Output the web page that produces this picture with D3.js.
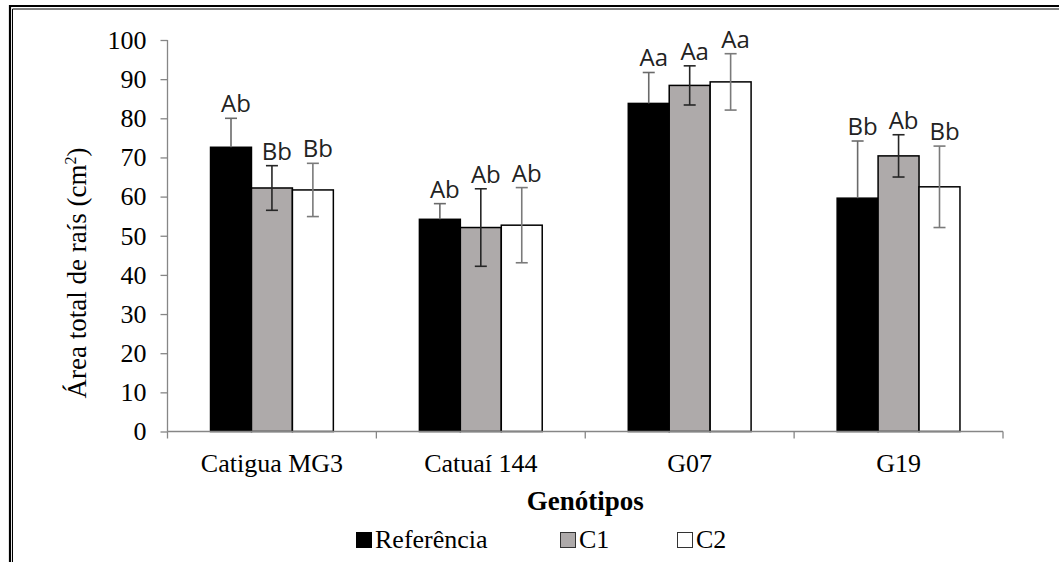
<!DOCTYPE html>
<html>
<head>
<meta charset="utf-8">
<script src="https://cdn.jsdelivr.net/npm/d3@7"></script>
<style>
  html, body { margin: 0; padding: 0; background: #fff; }
  svg { display: block; }
</style>
</head>
<body>
<svg id="chart" width="1059" height="562"></svg>
<script>
// Genotypes on the x axis
const categories = ["Catigua MG3", "Catuaí 144", "G07", "G19"];
// Treatments (legend entries)
const series = ["Referência", "C1", "C2"];
// Mean total root area (cm²) per genotype, one array per treatment
const refValues = [72.6, 54.2, 83.8, 59.6];
const c1Values  = [62.2, 52.1, 88.4, 70.4];
const c2Values  = [61.7, 52.7, 89.3, 62.5];
// Error bar half-widths (cm²)
const refErrors = [7.4, 4.0, 7.9, 14.6];
const c1Errors  = [5.7, 9.9, 5.0, 5.4];
const c2Errors  = [6.8, 9.6, 7.2, 10.4];
// Mean comparison letters
const refLetters = ["Ab", "Ab", "Aa", "Bb"];
const c1Letters  = ["Bb", "Ab", "Aa", "Ab"];
const c2Letters  = ["Bb", "Ab", "Aa", "Bb"];
// Y axis ticks
const yTicks = [0, 10, 20, 30, 40, 50, 60, 70, 80, 90, 100];

const valuesBySeries  = [refValues, c1Values, c2Values];
const errorsBySeries  = [refErrors, c1Errors, c2Errors];
const lettersBySeries = [refLetters, c1Letters, c2Letters];

const fills      = ["#000000", "#aeaaaa", "#ffffff"];
const errColors  = ["#6a6a6a", "#262626", "#7a7a7a"];
// The lower whisker of the black bars sits inside the black fill
const errBelow   = [false, true, true];
const serif = "'Liberation Serif', 'Times New Roman', serif";
const sans  = "'Open Sans', 'Noto Sans', sans-serif";

const svg = d3.select("#chart");

// Double frame line on the left and top
svg.append("path").attr("d", "M10,562V6H1059")
  .attr("fill", "none").attr("stroke", "#000").attr("stroke-width", 2.2);
svg.append("path").attr("d", "M12.5,562V9H1059")
  .attr("fill", "none").attr("stroke", "#000").attr("stroke-width", 1);

const plotLeft = 167.5, plotRight = 1003, plotTop = 40, plotBottom = 431.5;

const x0 = d3.scaleBand().domain(categories).range([plotLeft, plotRight]).paddingInner(0).paddingOuter(0);
const bw = x0.bandwidth();
const gap = bw * 0.206;
const x1 = d3.scaleBand().domain(series).range([gap, bw - gap]).padding(0);
const y = d3.scaleLinear().domain([0, 100]).range([plotBottom, plotTop]);

// Rows of the table used for drawing
const rows = [];
categories.forEach((cat, ci) => {
  series.forEach((s, si) => {
    rows.push({
      cat, s, si,
      v: valuesBySeries[si][ci],
      e: errorsBySeries[si][ci],
      label: lettersBySeries[si][ci]
    });
  });
});

// Y axis
const yAxis = d3.axisLeft(y).tickValues(yTicks).tickSize(7).tickPadding(14).tickFormat(d3.format("d"));
const gy = svg.append("g").attr("transform", `translate(${plotLeft},0)`).call(yAxis);
gy.select(".domain").attr("stroke", "#868686").attr("stroke-width", 1.3)
  .attr("d", `M0,${plotTop}V${plotBottom}`);
gy.selectAll(".tick line").attr("stroke", "#868686").attr("stroke-width", 1.3);
gy.selectAll(".tick text").attr("font-family", serif).attr("font-size", 26).attr("fill", "#000");

// Bars
const bars = svg.append("g");
bars.selectAll("rect").data(rows).join("rect")
  .attr("x", d => x0(d.cat) + x1(d.s))
  .attr("y", d => y(d.v))
  .attr("width", x1.bandwidth())
  .attr("height", d => y(0) - y(d.v))
  .attr("fill", d => fills[d.si])
  .attr("stroke", "#000")
  .attr("stroke-width", 1.5);

// Error bars
const capHalf = 6;
const eb = svg.append("g");
rows.forEach(d => {
  const cx = x0(d.cat) + x1(d.s) + x1.bandwidth() / 2;
  const lo = errBelow[d.si] ? d.v - d.e : d.v;
  const g = eb.append("g").attr("stroke", errColors[d.si]).attr("stroke-width", 1.6);
  g.append("line").attr("x1", cx).attr("x2", cx).attr("y1", y(d.v + d.e)).attr("y2", y(lo));
  g.append("line").attr("x1", cx - capHalf).attr("x2", cx + capHalf).attr("y1", y(d.v + d.e)).attr("y2", y(d.v + d.e));
  if (errBelow[d.si]) {
    g.append("line").attr("x1", cx - capHalf).attr("x2", cx + capHalf).attr("y1", y(lo)).attr("y2", y(lo));
  }
});

// X axis
const xAxis = d3.axisBottom(x0).tickSize(0).tickPadding(0);
const gx = svg.append("g").attr("transform", `translate(0,${plotBottom})`).call(xAxis);
gx.select(".domain").attr("stroke", "#868686").attr("stroke-width", 1.3)
  .attr("d", `M${plotLeft},0H${plotRight}`);
gx.selectAll(".tick text")
  .attr("font-family", serif).attr("font-size", 26).attr("fill", "#000")
  .attr("dy", null).attr("y", 40);
// Category boundary ticks
const bounds = categories.map(c => x0(c)).concat([plotRight]);
gx.selectAll("line.bound").data(bounds).join("line").attr("class", "bound")
  .attr("x1", d => d).attr("x2", d => d).attr("y1", 0).attr("y2", 7)
  .attr("stroke", "#868686").attr("stroke-width", 1.3);

// Comparison letters
svg.append("g").selectAll("text").data(rows).join("text")
  .attr("x", d => x0(d.cat) + x1(d.s) + x1.bandwidth() / 2 + 5)
  .attr("y", d => y(d.v + d.e) - 6)
  .attr("text-anchor", "middle")
  .attr("font-family", sans).attr("font-size", 24).attr("fill", "#222")
  .text(d => d.label);

// Axis titles
const yt = svg.append("text")
  .attr("transform", `translate(86,273) rotate(-90)`)
  .attr("text-anchor", "middle")
  .attr("font-family", serif).attr("font-size", 27).attr("fill", "#000");
yt.append("tspan").text("Área total de raís (cm");
yt.append("tspan").attr("font-size", 16).attr("dy", -10).text("2");
yt.append("tspan").attr("dy", 10).text(")");

svg.append("text")
  .attr("x", (plotLeft + plotRight) / 2).attr("y", 510)
  .attr("text-anchor", "middle")
  .attr("font-family", serif).attr("font-size", 27).attr("font-weight", "bold").attr("fill", "#000")
  .text("Genótipos");

// Legend
const legendX = [356, 560, 677];
const lg = svg.append("g");
series.forEach((s, i) => {
  lg.append("rect").attr("x", legendX[i] + 0.5).attr("y", 532.5).attr("width", 15).attr("height", 15)
    .attr("fill", fills[i]).attr("stroke", i === 0 ? "#000" : "#333").attr("stroke-width", 1);
  lg.append("text").attr("x", legendX[i] + 19).attr("y", 548)
    .attr("font-family", serif).attr("font-size", 26).attr("fill", "#000").text(s);
});
</script>
</body>
</html>
